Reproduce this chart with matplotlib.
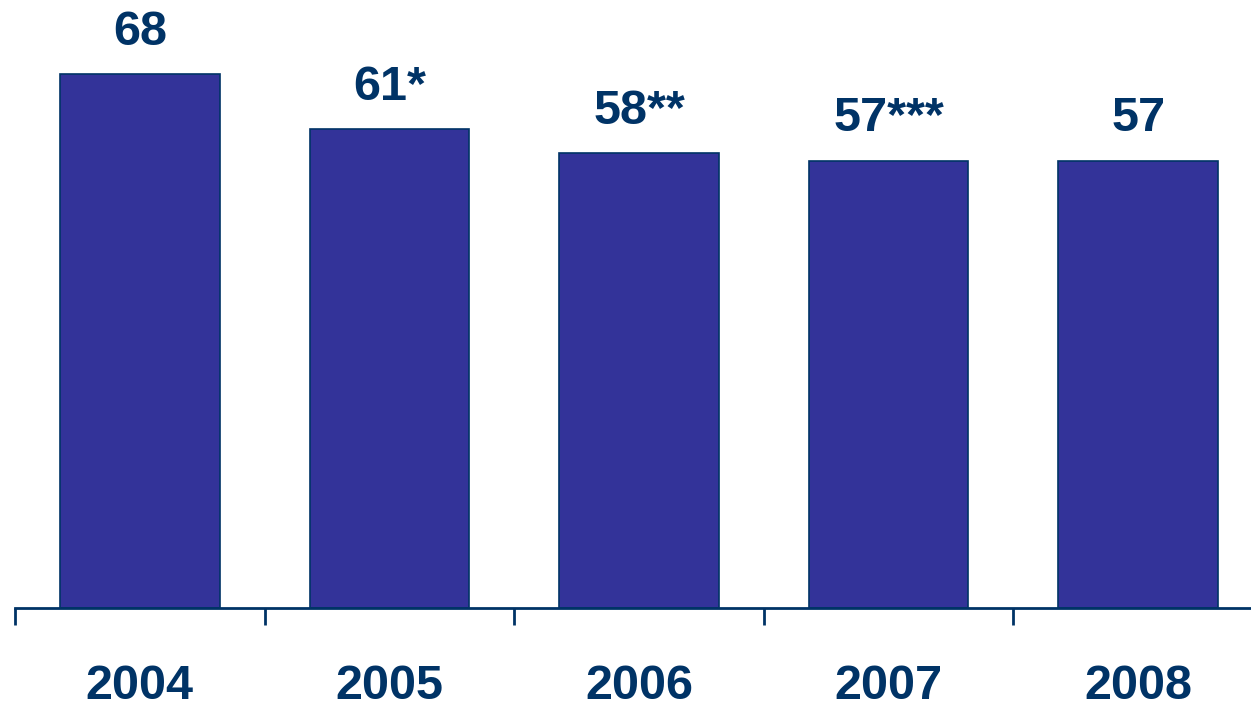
import matplotlib
matplotlib.use("Agg")
import matplotlib.pyplot as plt
import numpy as np

years = ["2004", "2005", "2006", "2007", "2008"]
values = [68, 61, 58, 57, 57]
labels = ["68", "61*", "58**", "57***", "57"]

navy = "#003366"
bar_col = "#333399"

plt.rcParams['font.family'] = ['Liberation Sans', 'DejaVu Sans']

fig = plt.figure(figsize=(12.51, 7.03), dpi=100)
# axes runs a little past the right edge, as in the original
ax = fig.add_axes([15/1251, 95/703, 1248/1251, 628/703])

x = np.arange(len(years))
bars = ax.bar(x, values, width=0.64, color=bar_col, edgecolor=navy, linewidth=1.2, zorder=2)

for xi, v, lab in zip(x, values, labels):
    ax.annotate(lab, (xi, v), xytext=(0, 21), textcoords="offset points",
                ha="center", va="baseline", fontsize=35, fontweight="bold", color=navy)

ax.set_xlim(-0.5, len(years) - 0.5)
ax.set_ylim(0, 80)

for s in ["top", "right", "left"]:
    ax.spines[s].set_visible(False)
ax.spines["bottom"].set_color(navy)
ax.spines["bottom"].set_linewidth(2)
ax.set_yticks([])

ax.set_xticks(np.arange(len(years) + 1) - 0.5, minor=False)
ax.set_xticklabels([])
ax.tick_params(axis="x", which="major", direction="out", length=12, width=2, color=navy)
ax.set_xticks(x, minor=True)
ax.set_xticklabels(years, minor=True)
ax.tick_params(axis="x", which="minor", length=0, pad=40, labelsize=35, labelcolor=navy)
for t in ax.get_xticklabels(minor=True):
    t.set_fontweight("bold")

fig.savefig("out.png", dpi=100)
